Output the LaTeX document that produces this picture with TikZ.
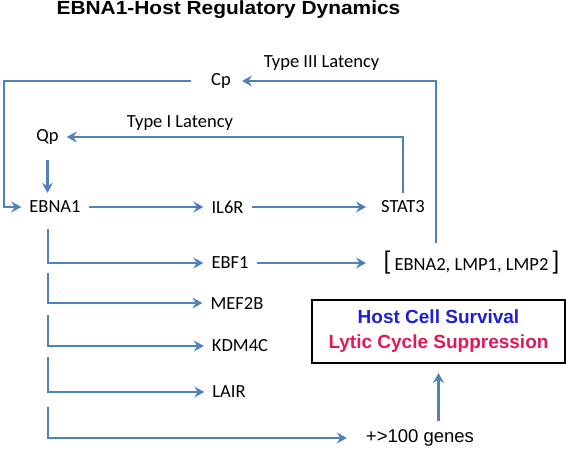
\documentclass[tikz,border=0pt]{standalone}
\usepackage{fontspec}
\setmainfont{Carlito}
\newfontfamily\arialfont{Liberation Sans}
\usetikzlibrary{arrows.meta}
\definecolor{flowblue}{RGB}{79,129,189}
\definecolor{survblue}{RGB}{30,30,215}
\definecolor{lyticred}{RGB}{225,25,85}
\tikzset{
	gene/.style={inner sep=8pt, font=\fontsize{18.5}{20}\selectfont},
	flow/.style={draw=flowblue, line width=2.4pt, -{Stealth[length=10pt,width=11pt,inset=3.5pt]}},
}
\newcommand{\bigbrk}[1]{{\fontsize{27}{27}\selectfont #1}}

\begin{document}
\begin{tikzpicture}[x=1pt,y=-1pt]
			\useasboundingbox (0,0) rectangle (566,449);
			\node[font=\arialfont\bfseries\fontsize{19}{19}\selectfont] (title) at (228.5,10) {\scalebox{1.1}[1]{EBNA1-Host Regulatory Dynamics}};
			% promoters and genes
			\node[gene, inner xsep=11pt] (Cp) at (221,81) {Cp};
			\node[gene] (Qp) at (47.5,137) {Qp};
			\node[gene] (EBNA1) at (55,207) {EBNA1};
			\node[gene] (IL6R) at (227.5,207) {IL6R};
			\node[gene, inner xsep=15pt] (STAT3) at (403,207) {STAT3};
			\node[gene] (EBF1) at (230,263) {EBF1};
			\node[gene, inner xsep=17pt] (brk) at (471.5,263) {\bigbrk{[}\,EBNA2, LMP1, LMP2\,\bigbrk{]}};
			\node[gene] (MEF2B) at (237,303) {MEF2B};
			\node[gene] (KDM4C) at (240,346) {KDM4C};
			\node[gene] (LAIR) at (229,392) {LAIR};
			\node[gene, inner xsep=19pt, font=\arialfont\fontsize{18.5}{20}\selectfont] (genes) at (420,438) {+>100 genes};
			\node[draw, line width=2pt, minimum width=253, minimum height=63, inner sep=0pt, align=center,
				font=\arialfont\bfseries\fontsize{19}{25}\selectfont] (box) at (438.5,331.5)
				{\textcolor{survblue}{Host Cell Survival}\\\textcolor{lyticred}{Lytic Cycle Suppression}};
			% latency labels
			\node[gene] (t3lab) at (321.5,63) {Type III Latency};
			\node[gene] (t1lab) at (180,123) {Type I Latency};
			% corners and branch points
			\coordinate (cpL) at (4,81);
			\coordinate (t3) at (436,81);
			\foreach \n/\y in {b1/229, b2/273, b3/315, b4/357, b5/407}
				\coordinate (\n) at (48,\y);

			\draw[flow, shorten <=9pt] (Cp.west) -- (cpL) |- (EBNA1.west);
			\draw[flow] (t3 |- brk.north) -- (t3) -- (Cp.east);
			\draw[flow] (STAT3.north) |- (Qp.east);
			\draw[flow, shorten <=7pt] (Qp.south) -- (Qp.south |- EBNA1.north);
			\path[flow]
			(EBNA1) edge (IL6R)
			(IL6R) edge (STAT3)
			(EBF1) edge (brk);
			\foreach \n/\g in {b1/EBF1, b2/MEF2B, b3/KDM4C, b4/LAIR, b5/genes}
				\draw[flow] (\n) |- (\g.west);
			\draw[flow, shorten >=9pt] (genes.north -| box.south) -- (box.south);
		\end{tikzpicture}
\end{document}
